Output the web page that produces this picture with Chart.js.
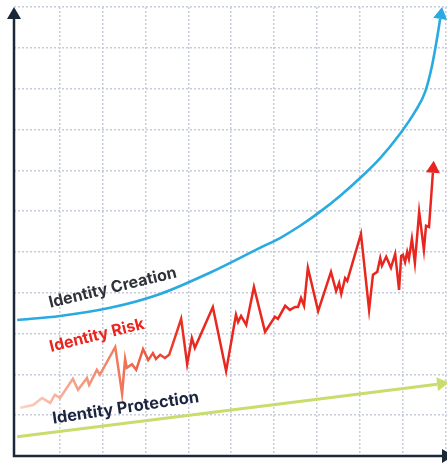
<!DOCTYPE html>
<html><head><meta charset="utf-8">
<script src="https://cdn.jsdelivr.net/npm/chart.js@4.4.1/dist/chart.umd.min.js"></script>
<style>html,body{margin:0;padding:0;background:#fff;}canvas{display:block;}</style>
</head><body>
<canvas id="c" width="447" height="465"></canvas>
<script>
// ---- data (chart units: one grid cell = 1) ----
const seriesLabels = ['Identity Creation', 'Identity Risk', 'Identity Protection'];

const creationX = [0, 1.00, 2.17, 3.34, 4.50, 5.67, 6.14, 6.61, 7.07, 7.54, 8.01, 8.48, 8.94, 9.29, 9.53, 9.69, 9.81, 9.88];
const creationY = [3.33, 3.43, 3.63, 3.97, 4.49, 5.10, 5.34, 5.64, 5.98, 6.37, 6.81, 7.30, 7.89, 8.43, 8.92, 9.56, 10.25, 10.71];

const riskX = [0.07, 0.37, 0.58, 0.77, 0.88, 1.00, 1.30, 1.42, 1.63, 1.68, 1.86, 1.93, 2.29, 2.45, 2.52, 2.56, 2.68, 2.78,
  2.94, 3.06, 3.17, 3.24, 3.34, 3.45, 3.55, 3.83, 3.97, 4.08, 4.15, 4.57, 4.88, 5.11, 5.16, 5.23, 5.35, 5.53, 5.79,
  6.02, 6.09, 6.26, 6.37, 6.49, 6.56, 6.63, 6.70, 6.79, 7.03, 7.33, 7.45, 7.52, 7.57, 7.66, 7.71, 8.03, 8.22, 8.31,
  8.41, 8.48, 8.52, 8.62, 8.73, 8.83, 8.92, 8.97, 9.01, 9.06, 9.11, 9.15, 9.22, 9.29, 9.39, 9.50, 9.55, 9.62, 9.71];
const riskY = [1.18, 1.25, 1.42, 1.30, 1.50, 1.42, 1.89, 1.62, 1.91, 1.74, 2.11, 1.99, 2.67, 1.52, 2.38, 2.16, 2.25, 2.11,
  2.62, 2.35, 2.52, 2.38, 2.48, 2.40, 2.48, 3.36, 2.25, 2.89, 2.65, 3.65, 2.08, 3.46, 3.28, 3.43, 3.21, 4.14, 3.04,
  3.41, 3.36, 3.68, 3.58, 3.65, 3.65, 3.87, 3.68, 4.61, 3.55, 4.51, 4.04, 4.24, 3.97, 4.36, 4.29, 5.44, 3.58, 4.44,
  4.51, 4.85, 4.66, 4.88, 4.61, 4.95, 4.07, 4.90, 4.93, 4.75, 5.00, 4.83, 5.32, 4.73, 5.98, 5.05, 5.64, 5.61, 6.94];

const protectionX = [0, 9.81];
const protectionY = [0.47, 1.76];

const xGridTicks = [1, 2, 3, 4, 5, 6, 7, 8, 9, 10];
const yGridTicks = [1, 2, 3, 4, 5, 6, 7, 8, 9, 10, 11];

// ---- helpers ----
const toPts = (xs, ys) => xs.map((x, i) => ({x: x, y: ys[i]}));

const labelDefs = [
  {text: seriesLabels[0], x: 0.77, y: 3.63, angle: -13.5, width: 131, color: '#2f3338'},
  {text: seriesLabels[1], x: 0.79, y: 2.55, angle: -14, width: 97, color: '#e8261f'},
  {text: seriesLabels[2], x: 0.84, y: 0.79, angle: -8.5, width: 148, color: '#1b2540'}
];

const arrowPlugin = {
  id: 'arrows',
  afterDatasetsDraw(chart) {
    const ctx = chart.ctx;
    chart.data.datasets.forEach((ds, i) => {
      if (!ds.arrowColor) return;
      const pts = chart.getDatasetMeta(i).data;
      const a = pts[pts.length - 2], b = pts[pts.length - 1];
      const ang = Math.atan2(b.y - a.y, b.x - a.x);
      const L = 12, H = 7;
      ctx.save();
      ctx.translate(b.x, b.y);
      ctx.rotate(ang);
      ctx.beginPath();
      ctx.moveTo(L, 0);
      ctx.lineTo(0, -H);
      ctx.lineTo(0, H);
      ctx.closePath();
      ctx.fillStyle = ds.arrowColor;
      ctx.fill();
      ctx.restore();
    });
  }
};

const axesPlugin = {
  id: 'axesArrows',
  afterDraw(chart) {
    const ctx = chart.ctx, ca = chart.chartArea;
    const col = '#1b2838';
    ctx.save();
    ctx.strokeStyle = col; ctx.fillStyle = col; ctx.lineWidth = 2.5; ctx.lineCap = 'butt';
    ctx.beginPath();
    ctx.moveTo(ca.left, ca.top + 11);
    ctx.lineTo(ca.left, ca.bottom);
    ctx.lineTo(ca.right - 5, ca.bottom);
    ctx.stroke();
    ctx.beginPath();
    ctx.moveTo(ca.left, ca.top);
    ctx.lineTo(ca.left - 7, ca.top + 12);
    ctx.lineTo(ca.left + 7, ca.top + 12);
    ctx.closePath(); ctx.fill();
    ctx.beginPath();
    ctx.moveTo(ca.right + 7, ca.bottom);
    ctx.lineTo(ca.right - 5, ca.bottom - 7);
    ctx.lineTo(ca.right - 5, ca.bottom + 7);
    ctx.closePath(); ctx.fill();
    ctx.restore();
  }
};

const labelPlugin = {
  id: 'seriesLabels',
  afterDatasetsDraw(chart) {
    const ctx = chart.ctx, xs = chart.scales.x, ys = chart.scales.y;
    labelDefs.forEach(l => {
      ctx.save();
      ctx.font = '700 100px Inter';
      const w100 = ctx.measureText(l.text).width;
      const size = 100 * l.width / w100;
      ctx.font = '700 ' + size.toFixed(2) + 'px Inter';
      ctx.translate(xs.getPixelForValue(l.x), ys.getPixelForValue(l.y));
      ctx.rotate(l.angle * Math.PI / 180);
      ctx.fillStyle = l.color;
      ctx.textAlign = 'left';
      ctx.textBaseline = 'alphabetic';
      ctx.fillText(l.text, 0, 0);
      ctx.restore();
    });
  }
};

function riskGradient(context) {
  const chart = context.chart, ca = chart.chartArea;
  if (!ca) return '#e8261f';
  const g = chart.ctx.createLinearGradient(ca.left, 0, ca.right, 0);
  g.addColorStop(0.0, '#fcd9cd');
  g.addColorStop(0.08, '#f8b9a2');
  g.addColorStop(0.24, '#f27a5c');
  g.addColorStop(0.40, '#e8291f');
  g.addColorStop(1.0, '#e8261f');
  return g;
}

const gridOpts = {color: '#c6ccd9', lineWidth: 1.5, drawTicks: false};

new Chart(document.getElementById('c'), {
  type: 'line',
  data: {
    datasets: [
      {label: seriesLabels[0], data: toPts(creationX, creationY), borderColor: '#29aae1', borderWidth: 2.6,
        pointRadius: 0, cubicInterpolationMode: 'monotone', arrowColor: '#29aae1', clip: false},
      {label: seriesLabels[1], data: toPts(riskX, riskY), borderColor: riskGradient, borderWidth: 2.5,
        pointRadius: 0, tension: 0, arrowColor: '#e8261f', clip: false},
      {label: seriesLabels[2], data: toPts(protectionX, protectionY), borderColor: '#c9dc6c', borderWidth: 3,
        pointRadius: 0, tension: 0, arrowColor: '#c9dc6c', clip: false}
    ]
  },
  options: {
    responsive: false,
    animation: false,
    devicePixelRatio: 1,
    layout: {padding: {left: 14, right: 0, top: 7, bottom: 9}},
    plugins: {legend: {display: false}, tooltip: {enabled: false}},
    scales: {
      x: {
        type: 'linear', min: -0.075, max: 10.04,
        ticks: {display: false},
        grid: gridOpts,
        border: {display: false, dash: [2, 2]},
        afterBuildTicks: s => { s.ticks = xGridTicks.map(v => ({value: v})); }
      },
      y: {
        type: 'linear', min: 0, max: 11,
        ticks: {display: false},
        grid: gridOpts,
        border: {display: false, dash: [2, 2]},
        afterBuildTicks: s => { s.ticks = yGridTicks.map(v => ({value: v})); }
      }
    }
  },
  plugins: [arrowPlugin, labelPlugin, axesPlugin]
});
</script>
</body></html>
